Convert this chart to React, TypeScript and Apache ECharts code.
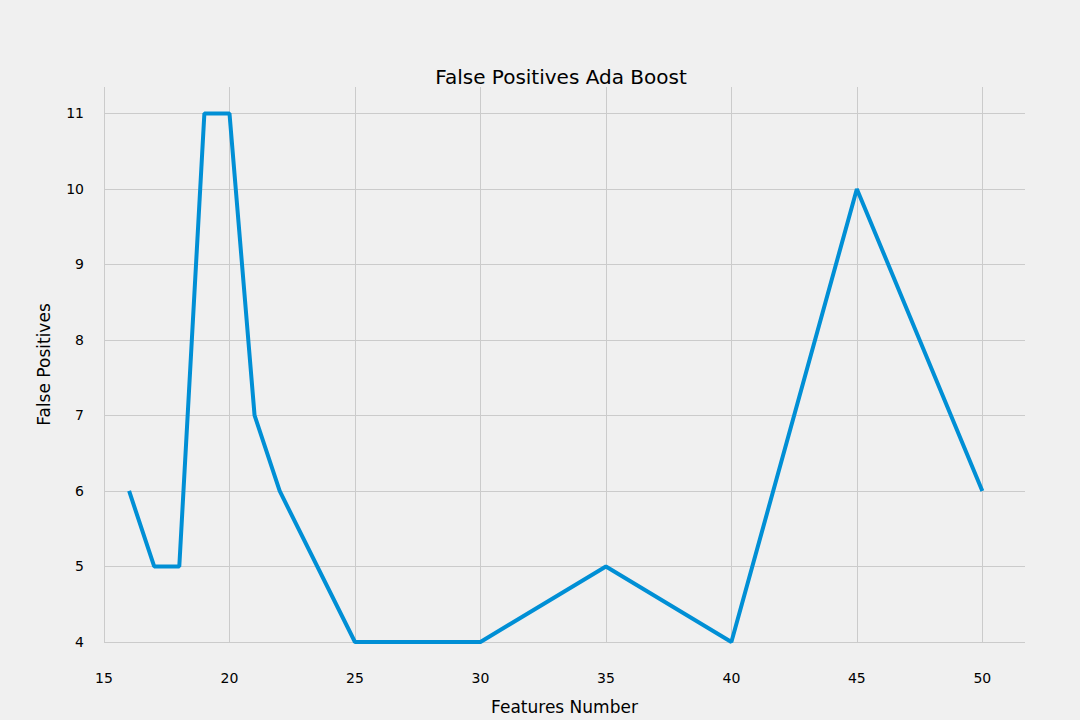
import React, { useEffect, useRef } from 'react';
import * as echarts from 'echarts';

const features = [16, 17, 18, 19, 20, 21, 22, 25, 30, 35, 40, 45, 50];
const falsePositives = [6, 5, 5, 11, 11, 7, 6, 4, 4, 5, 4, 10, 6];

const BG = '#f0f0f0';
const GRID = '#cbcbcb';

const App: React.FC = () => {
  const chartRef = useRef<HTMLDivElement>(null);

  useEffect(() => {
    const chart = echarts.init(chartRef.current!, undefined, { renderer: 'svg' });
    const font = 'DejaVu Sans';
    const hideEdge = (v: number) => (Number.isInteger(v) ? String(v) : '');

    chart.setOption({
      animation: false,
      backgroundColor: BG,
      textStyle: { fontFamily: font },
      title: {
        text: 'False Positives Ada Boost',
        left: 556,
        textAlign: 'center',
        top: 62,
        textStyle: { fontSize: 20, fontWeight: 'normal', color: '#000', fontFamily: font }
      },
      grid: { left: 104, right: 55, top: 87, bottom: 77 },
      xAxis: {
        type: 'value',
        min: 15,
        max: 51.7,
        interval: 5,
        name: 'Features Number',
        nameLocation: 'middle',
        nameGap: 56,
        nameTextStyle: { fontSize: 17, color: '#000' },
        axisLine: { show: false },
        axisTick: { show: false },
        axisLabel: { fontSize: 14, color: '#000', margin: 29, formatter: hideEdge },
        splitLine: {
          show: true,
          lineStyle: { color: [GRID, GRID, GRID, GRID, GRID, GRID, GRID, GRID, BG], width: 1 }
        }
      },
      yAxis: {
        type: 'value',
        min: 4,
        max: 11.35,
        interval: 1,
        name: 'False Positives',
        nameLocation: 'middle',
        nameGap: 52,
        nameTextStyle: { fontSize: 17, color: '#000' },
        axisLine: { show: false },
        axisTick: { show: false },
        axisLabel: { fontSize: 14, color: '#000', margin: 20, formatter: hideEdge },
        splitLine: {
          show: true,
          lineStyle: { color: [GRID, GRID, GRID, GRID, GRID, GRID, GRID, GRID, BG], width: 1 }
        }
      },
      series: [
        {
          type: 'line',
          data: features.map((f, i) => [f, falsePositives[i]]),
          showSymbol: false,
          clip: false,
          lineStyle: { color: '#008fd5', width: 4 }
        }
      ]
    });

    return () => chart.dispose();
  }, []);

  return (
    <div
      ref={chartRef}
      style={{ position: 'absolute', left: 0, top: 0, width: 1080, height: 720 }}
    />
  );
};

export default App;
